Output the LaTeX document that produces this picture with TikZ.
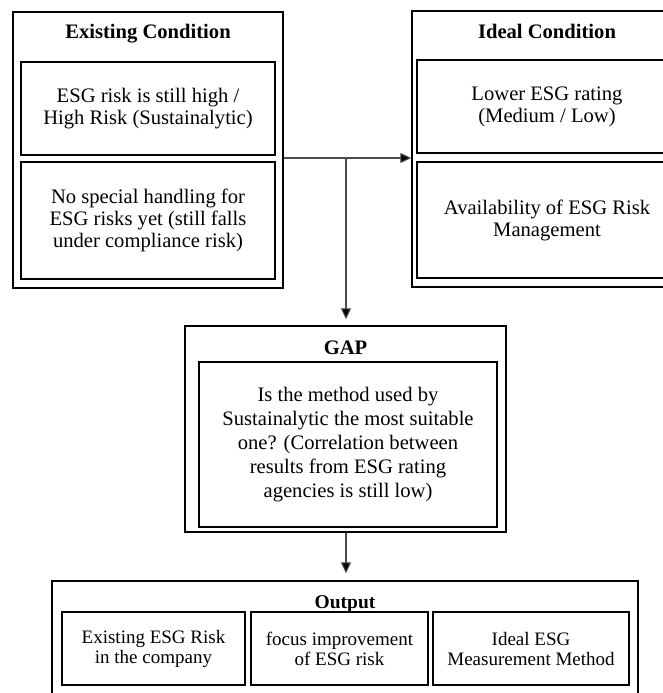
\documentclass[tikz,border=0pt]{standalone}
\usepackage{fontspec}
\setmainfont{Liberation Serif}
\usetikzlibrary{arrows.meta}
\begin{document}
\begin{tikzpicture}[x=1pt,y=-1pt,
  outerbox/.style={draw=black, line width=1.4pt, inner sep=0pt},
  innerbox/.style={draw=black, line width=1.9pt, inner sep=0pt, align=center, font=\fontsize{20.6}{22}\selectfont},
  gapbox/.style={innerbox, font=\fontsize{20.6}{24.2}\selectfont},
  outbox/.style={innerbox, font=\fontsize{19}{20}\selectfont},
  title/.style={font=\fontsize{20.6}{22}\selectfont\bfseries, inner sep=0pt, anchor=base},
  conn/.style={draw=black!70, line width=1.1pt},
  arr/.style={conn, -{Triangle[length=11pt,width=10pt,fill=black]}}
]
\clip (0,0) rectangle (663,693);
\fill[white] (0,0) rectangle (663,693);

% Existing Condition
\node[outerbox, minimum width=270pt, minimum height=276pt] (ex) at (148,150) {};
\node[title] (extitle) at (148,38) {Existing Condition};
\node[innerbox, minimum width=254pt, minimum height=93pt] (e1) at (148,108.5)
  {ESG risk is still high /\\High Risk (Sustainalytic)};
\node[innerbox, minimum width=254pt, minimum height=117pt] (e2) at (148,220.5)
  {No special handling for\\ESG risks yet (still falls\\under compliance risk)};

% Ideal Condition
\node[outerbox, minimum width=270pt, minimum height=276pt] (id) at (547,149) {};
\node[title] (idtitle) at (547,38) {Ideal Condition};
\node[innerbox, minimum width=260pt, minimum height=93pt] (i1) at (547,106.5)
  {Lower ESG rating\\(Medium / Low)};
\node[innerbox, minimum width=260pt, minimum height=116pt] (i2) at (547,220)
  {Availability of ESG Risk\\Management};

% GAP
\node[outerbox, minimum width=321pt, minimum height=206pt] (gap) at (345.5,429) {};
\node[title] (gaptitle) at (345.5,354) {GAP};
\node[gapbox, minimum width=298pt, minimum height=165pt] (g1) at (348,444.5)
  {Is the method used by\\Sustainalytic the most suitable\\one? (Correlation between\\results from ESG rating\\agencies is still low)};

% Output
\node[outerbox, minimum width=586pt, minimum height=120pt] (out) at (345,641) {};
\node[title, font=\fontsize{19.5}{20}\selectfont\bfseries] (outtitle) at (345,608) {Output};
\node[outbox, minimum width=183pt, minimum height=73pt] (o1) at (153.5,648.5)
  {Existing ESG Risk\\in the company};
\node[outbox, minimum width=177pt, minimum height=73pt] (o2) at (339.5,648.5)
  {focus improvement\\of ESG risk};
\node[outbox, minimum width=196pt, minimum height=73pt] (o3) at (531,648.5)
  {Ideal ESG\\Measurement Method};

% connectors
\coordinate (j) at (346,158);
\draw[arr] (ex.east |- j) -- (id.west |- j);
\draw[arr, shorten >=6pt] (j) -- (j |- gap.north);
\draw[arr, shorten >=7pt] (gap.south -| j) -- (j |- out.north);
\end{tikzpicture}
\end{document}
